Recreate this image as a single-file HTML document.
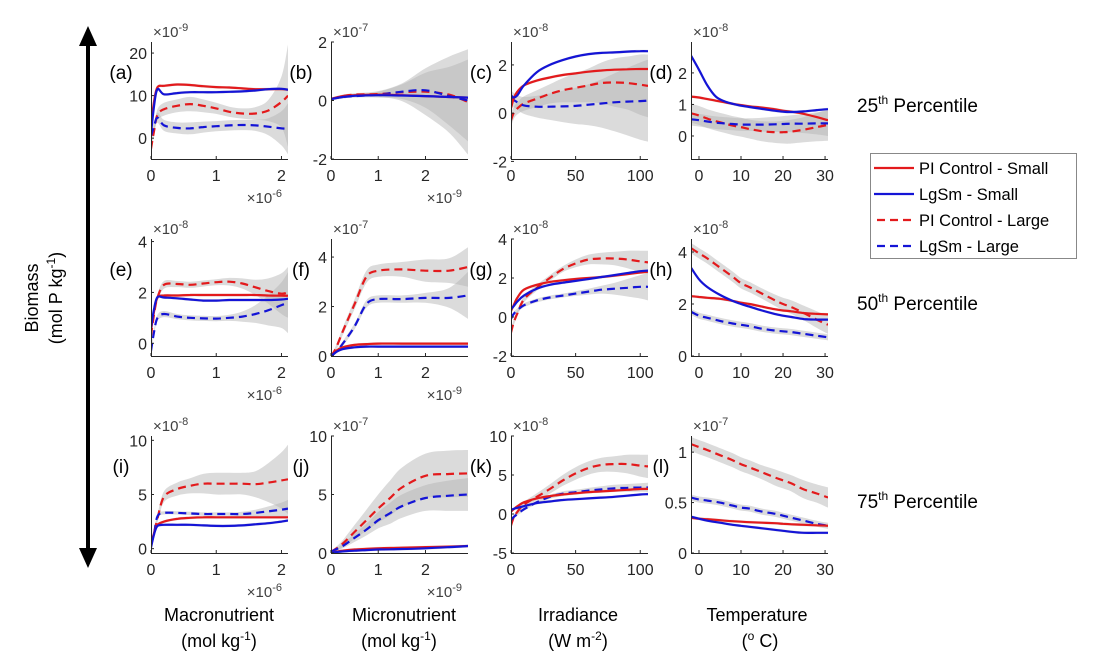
<!DOCTYPE html>
<html><head><meta charset="utf-8"><style>
body{margin:0;background:#fff;}
svg{display:block;font-family:"Liberation Sans",Arial,sans-serif;}
</style></head><body>
<svg id="fig" width="1098" height="670" viewBox="0 0 1098 670" xmlns="http://www.w3.org/2000/svg">
<defs id="defs"></defs>
<g id="arrow">
  <line x1="88" y1="40" x2="88" y2="555" stroke="#000" stroke-width="4"/>
  <polygon points="88,26 79,46 97,46" fill="#000"/>
  <polygon points="88,568 79,548 97,548" fill="#000"/>
</g>
<g font-size="18" fill="#000" text-anchor="middle">
  <text transform="translate(38,298) rotate(-90)">Biomass</text>
  <text transform="translate(62,298) rotate(-90)">(mol P kg<tspan dy="-7" font-size="12">-1</tspan><tspan dy="7">)</tspan></text>
</g>
<g font-size="18" fill="#000" text-anchor="middle">
  <text x="219" y="621">Macronutrient</text>
  <text x="219" y="647">(mol kg<tspan dy="-7" font-size="12">-1</tspan><tspan dy="7">)</tspan></text>
  <text x="404" y="621">Micronutrient</text>
  <text x="399" y="647">(mol kg<tspan dy="-7" font-size="12">-1</tspan><tspan dy="7">)</tspan></text>
  <text x="578" y="621">Irradiance</text>
  <text x="578" y="647">(W m<tspan dy="-7" font-size="12">-2</tspan><tspan dy="7">)</tspan></text>
  <text x="757" y="621">Temperature</text>
  <text x="760" y="647">(<tspan dy="-7" font-size="12">o</tspan><tspan dy="7"> C)</tspan></text>
</g>
<g font-size="19" fill="#000">
  <text x="857" y="112">25<tspan dy="-8" font-size="12">th</tspan><tspan dy="8"> Percentile</tspan></text>
  <text x="857" y="310">50<tspan dy="-8" font-size="12">th</tspan><tspan dy="8"> Percentile</tspan></text>
  <text x="857" y="508">75<tspan dy="-8" font-size="12">th</tspan><tspan dy="8"> Percentile</tspan></text>
</g>
<g>
  <rect x="870.5" y="153.5" width="206" height="105" fill="#fff" stroke="#888" stroke-width="1"/>
  <g><line x1="874" x2="914" y1="168" y2="168" stroke="#e31a1c" stroke-width="2.2"/><text x="919" y="174" font-size="16.5">PI Control - Small</text></g>
  <g><line x1="874" x2="914" y1="194" y2="194" stroke="#1414d6" stroke-width="2.2"/><text x="919" y="200" font-size="16.5">LgSm - Small</text></g>
  <g><line x1="874" x2="914" y1="220" y2="220" stroke="#e31a1c" stroke-width="2.2" stroke-dasharray="8,5" stroke-dashoffset="-3"/><text x="919" y="226" font-size="16.5">PI Control - Large</text></g>
  <g><line x1="874" x2="914" y1="246" y2="246" stroke="#1414d6" stroke-width="2.2" stroke-dasharray="8,5" stroke-dashoffset="-3"/><text x="919" y="252" font-size="16.5">LgSm - Large</text></g>
</g>
<g id="panels"></g>
</svg>
<script>
const xMacro=[0,0.05,0.1,0.2,0.4,0.6,0.8,1.0,1.2,1.4,1.6,1.8,2.0,2.1];
const xMicro=[0,0.1,0.25,0.5,0.75,1,1.5,2,2.5,2.9];
const xMicroJ=[0,0.1,0.25,0.5,0.75,1,1.25,1.5,2,2.5,2.9];
const xMicroB=[0,0.25,0.5,1,1.5,2,2.5,2.9];
const xIrr=[0,2,5,10,20,30,40,50,60,70,80,90,100,106];
const xTempD=[-1.9,0,2,4,6,8,10,12,15,18,20,22,25,28,30.7];
const xTemp=[-1.9,0,2,5,8,10,12,15,18,20,22,25,28,30.7];

const a_rs=[3,9,12,12.3,12.6,12.5,12.2,12,11.9,11.7,11.5,11.5,11.5,11.4];
const a_bs=[1,8,11.5,10.3,10.6,10.8,10.8,10.8,10.9,11,11.2,11.5,11.6,11.4];
const a_rd=[-2.5,2,5.5,6.8,7.6,8,7.6,7,6.2,5.8,5.8,6.5,8.5,10];
const a_bd=[0.5,3,4.8,3,2.4,2.3,2.6,2.8,3,3.1,3,2.7,2.3,2.2];
const a_hrd=[1,1,1.3,1.5,1.5,1.7,1.5,1.3,1.2,1.2,1.5,2.5,6,12];
const a_hbd=[1,1,1.2,1.3,1.3,1.4,1.3,1.2,1.2,1.2,1.3,2,4,6];

const b_rs=[0.05,0.15,0.18,0.2,0.18,0.15,0.12,0.1];
const b_bs=[0.05,0.12,0.16,0.18,0.17,0.15,0.12,0.1];
const b_rd=[0.05,0.15,0.2,0.22,0.28,0.3,0.2,-0.05];
const b_bd=[0.05,0.12,0.15,0.2,0.3,0.35,0.15,0.0];
const b_hrd=[0.05,0.05,0.05,0.1,0.3,0.8,1.3,1.8];
const b_hbd=[0.05,0.05,0.05,0.1,0.25,0.6,1.0,1.4];

const c_rs=[0.2,0.6,0.9,1.15,1.35,1.48,1.58,1.65,1.72,1.77,1.8,1.82,1.83,1.83];
const c_bs=[0.75,0.65,0.75,1.15,1.7,2.0,2.2,2.35,2.45,2.5,2.52,2.55,2.57,2.57];
const c_rd=[-0.3,0,0.2,0.4,0.6,0.8,0.95,1.05,1.15,1.25,1.27,1.25,1.18,1.13];
const c_bd=[0.65,0.55,0.45,0.32,0.27,0.27,0.28,0.3,0.35,0.4,0.45,0.48,0.5,0.52];
const c_hrd=[0.3,0.25,0.25,0.3,0.35,0.4,0.5,0.6,0.7,0.85,1.0,1.1,1.25,1.3];
const c_hbd=[0.3,0.3,0.3,0.35,0.45,0.55,0.65,0.75,0.85,1.0,1.2,1.4,1.6,1.7];

const d_rs=[1.25,1.22,1.17,1.12,1.07,1.02,0.98,0.94,0.9,0.85,0.8,0.77,0.7,0.6,0.5];
const d_bs=[2.55,2.1,1.6,1.25,1.1,1.02,0.96,0.92,0.86,0.8,0.77,0.76,0.78,0.82,0.85];
const d_rd=[0.72,0.65,0.55,0.47,0.4,0.33,0.28,0.22,0.15,0.12,0.12,0.14,0.2,0.28,0.35];
const d_bd=[0.53,0.5,0.46,0.42,0.4,0.38,0.36,0.36,0.36,0.37,0.38,0.39,0.39,0.4,0.4];
const d_hrd=[0.3,0.3,0.3,0.3,0.3,0.3,0.3,0.3,0.32,0.34,0.36,0.38,0.4,0.45,0.5];
const d_hbd=[0.2,0.2,0.2,0.2,0.2,0.2,0.2,0.2,0.22,0.24,0.25,0.27,0.3,0.35,0.4];

const e_rs=[0.5,1.3,1.8,1.88,1.88,1.9,1.9,1.9,1.9,1.9,1.9,1.88,1.87,1.87];
const e_bs=[0.6,1.4,1.82,1.8,1.77,1.72,1.68,1.68,1.7,1.7,1.7,1.7,1.72,1.75];
const e_rd=[0.3,1.2,1.8,2.3,2.33,2.3,2.35,2.4,2.42,2.35,2.2,2.05,1.95,2.0];
const e_bd=[-0.3,0.5,1.0,1.15,1.05,1.0,0.98,0.97,1.0,1.05,1.15,1.3,1.5,1.6];
const e_hrd=[0.1,0.1,0.15,0.15,0.12,0.12,0.12,0.12,0.15,0.2,0.3,0.5,0.8,1.0];
const e_hbd=[0.1,0.1,0.12,0.12,0.1,0.1,0.1,0.1,0.12,0.2,0.35,0.6,0.9,1.2];

const f_rs=[0,0.2,0.35,0.45,0.48,0.5,0.5,0.5,0.5,0.5];
const f_bs=[0,0.15,0.28,0.35,0.38,0.38,0.38,0.38,0.38,0.38];
const f_rd=[0.0,0.3,1.0,2.1,3.2,3.45,3.5,3.45,3.45,3.6];
const f_bd=[0,0.15,0.5,1.2,2.1,2.3,2.3,2.35,2.35,2.45];
const f_hrd=[0.05,0.1,0.15,0.2,0.25,0.25,0.3,0.45,0.5,0.8];
const f_hbd=[0.05,0.05,0.1,0.12,0.15,0.15,0.15,0.2,0.4,0.95];

const g_rs=[0.3,0.6,1.0,1.4,1.65,1.8,1.88,1.95,2.0,2.05,2.12,2.2,2.28,2.32];
const g_bs=[0.4,0.55,0.8,1.1,1.45,1.65,1.76,1.85,1.95,2.05,2.15,2.25,2.35,2.38];
const g_rd=[-0.8,-0.3,0.2,0.9,1.5,2.0,2.45,2.75,2.95,3.0,3.0,2.95,2.85,2.8];
const g_bd=[-0.1,0.15,0.35,0.6,0.85,1.0,1.1,1.2,1.3,1.4,1.45,1.5,1.55,1.55];
const g_hrd=[0.15,0.15,0.15,0.15,0.15,0.15,0.15,0.2,0.25,0.3,0.35,0.45,0.55,0.6];
const g_hbd=[0.1,0.1,0.1,0.1,0.1,0.1,0.1,0.12,0.15,0.2,0.3,0.45,0.6,0.7];

const h_rs=[2.3,2.27,2.24,2.2,2.12,2.05,2.0,1.9,1.8,1.75,1.72,1.65,1.62,1.6];
const h_bs=[3.4,2.95,2.65,2.35,2.12,2.0,1.9,1.75,1.62,1.55,1.5,1.42,1.4,1.4];
const h_rd=[4.15,3.95,3.75,3.4,3.05,2.8,2.65,2.4,2.15,2.0,1.88,1.65,1.4,1.2];
const h_bd=[1.7,1.55,1.47,1.35,1.25,1.2,1.15,1.05,0.98,0.95,0.92,0.85,0.78,0.72];
const h_hrd=[0.2,0.2,0.2,0.2,0.2,0.2,0.2,0.2,0.22,0.24,0.26,0.28,0.32,0.35];
const h_hbd=[0.12,0.12,0.12,0.12,0.12,0.12,0.12,0.12,0.12,0.12,0.12,0.12,0.12,0.12];

const i_rs=[0.3,1.5,2.2,2.5,2.75,2.85,2.9,2.9,2.9,2.9,2.9,2.9,2.9,2.9];
const i_bs=[0.1,1.4,2.1,2.2,2.2,2.2,2.15,2.1,2.1,2.15,2.25,2.35,2.5,2.6];
const i_rd=[0.5,1.5,2.8,4.8,5.5,5.8,6.0,6.0,6.0,6.0,5.95,6.1,6.3,6.4];
const i_bd=[0.3,1.5,3.0,3.3,3.3,3.25,3.2,3.2,3.2,3.2,3.3,3.45,3.6,3.7];
const i_hrd=[0.3,0.3,0.4,0.5,0.6,0.7,0.9,1.0,1.0,1.0,1.2,1.8,2.6,3.2];
const i_hbd=[0.15,0.15,0.15,0.15,0.15,0.15,0.15,0.15,0.15,0.2,0.3,0.45,0.65,0.8];

const j_rs=[0.05,0.1,0.2,0.3,0.35,0.4,0.43,0.45,0.5,0.55,0.6];
const j_bs=[0.05,0.08,0.14,0.2,0.25,0.3,0.32,0.34,0.4,0.5,0.6];
const j_rd=[0.1,0.35,0.8,1.8,2.8,3.8,4.7,5.6,6.6,6.75,6.8];
const j_bd=[0.1,0.3,0.6,1.3,2.0,2.8,3.4,4.0,4.7,4.9,5.0];
const j_hrd=[0.1,0.15,0.3,0.6,0.9,1.2,1.5,1.7,1.9,2.0,2.0];
const j_hbd=[0.05,0.1,0.2,0.35,0.5,0.7,0.9,1.0,1.1,1.3,1.4];

const k_rs=[0.3,0.6,1.0,1.5,2.0,2.3,2.5,2.65,2.8,2.9,3.0,3.1,3.2,3.22];
const k_bs=[0.5,0.65,0.8,1.0,1.4,1.6,1.8,1.9,2.0,2.1,2.2,2.35,2.5,2.55];
const k_rd=[-1.5,-0.5,0.3,1.2,2.2,3.2,4.3,5.2,5.9,6.3,6.4,6.4,6.2,6.1];
const k_bd=[-0.8,-0.4,0.0,0.6,1.5,2.2,2.6,2.8,3.0,3.15,3.3,3.35,3.4,3.4];
const k_hrd=[0.3,0.3,0.3,0.35,0.45,0.6,0.7,0.8,0.85,0.9,1.0,1.2,1.4,1.5];
const k_hbd=[0.2,0.2,0.2,0.2,0.2,0.25,0.3,0.3,0.35,0.4,0.45,0.5,0.55,0.6];

const l_rs=[0.35,0.34,0.335,0.325,0.315,0.31,0.305,0.3,0.295,0.29,0.285,0.28,0.275,0.27];
const l_bs=[0.36,0.34,0.32,0.3,0.28,0.27,0.26,0.245,0.23,0.22,0.21,0.2,0.2,0.2];
const l_rd=[1.08,1.05,1.02,0.97,0.92,0.88,0.85,0.8,0.75,0.72,0.69,0.63,0.59,0.55];
const l_bd=[0.55,0.53,0.52,0.5,0.47,0.45,0.44,0.41,0.39,0.37,0.35,0.32,0.29,0.27];
const l_hrd=[0.07,0.07,0.07,0.07,0.07,0.07,0.07,0.07,0.08,0.08,0.08,0.09,0.09,0.1];
const l_hbd=[0.03,0.03,0.03,0.03,0.03,0.03,0.03,0.03,0.03,0.03,0.03,0.03,0.03,0.03];

const ticksMacro=[0,1,2], ticksMicro=[0,1,2], ticksIrr=[0,50,100], ticksTemp=[0,10,20,30];

const panels=[
 {id:'a',col:0,row:0,x:xMacro,xr:[0,2.1],yr:[-4.9,22.6],xt:ticksMacro,yt:[0,10,20],ye:'-9',xe:'-6',s:[a_rs,a_bs,a_rd,a_bd],h:[a_hrd,a_hbd]},
 {id:'b',col:1,row:0,x:xMicroB,xr:[0,2.9],yr:[-2,2],xt:ticksMicro,yt:[-2,0,2],ye:'-7',xe:'-9',s:[b_rs,b_bs,b_rd,b_bd],h:[b_hrd,b_hbd]},
 {id:'c',col:2,row:0,x:xIrr,xr:[0,106],yr:[-1.9,2.95],xt:ticksIrr,yt:[-2,0,2],ye:'-8',xe:null,s:[c_rs,c_bs,c_rd,c_bd],h:[c_hrd,c_hbd]},
 {id:'d',col:3,row:0,x:xTempD,xr:[-1.9,30.7],yr:[-0.73,2.98],xt:ticksTemp,yt:[0,1,2],ye:'-8',xe:null,s:[d_rs,d_bs,d_rd,d_bd],h:[d_hrd,d_hbd]},
 {id:'e',col:0,row:1,x:xMacro,xr:[0,2.1],yr:[-0.5,4.1],xt:ticksMacro,yt:[0,2,4],ye:'-8',xe:'-6',s:[e_rs,e_bs,e_rd,e_bd],h:[e_hrd,e_hbd]},
 {id:'f',col:1,row:1,x:xMicro,xr:[0,2.9],yr:[0,4.73],xt:ticksMicro,yt:[0,2,4],ye:'-7',xe:'-9',s:[f_rs,f_bs,f_rd,f_bd],h:[f_hrd,f_hbd]},
 {id:'g',col:2,row:1,x:xIrr,xr:[0,106],yr:[-2,4],xt:ticksIrr,yt:[-2,0,2,4],ye:'-8',xe:null,s:[g_rs,g_bs,g_rd,g_bd],h:[g_hrd,g_hbd]},
 {id:'h',col:3,row:1,x:xTemp,xr:[-1.9,30.7],yr:[0,4.5],xt:ticksTemp,yt:[0,2,4],ye:'-8',xe:null,s:[h_rs,h_bs,h_rd,h_bd],h:[h_hrd,h_hbd]},
 {id:'i',col:0,row:2,x:xMacro,xr:[0,2.1],yr:[-0.4,10.4],xt:ticksMacro,yt:[0,5,10],ye:'-8',xe:'-6',s:[i_rs,i_bs,i_rd,i_bd],h:[i_hrd,i_hbd]},
 {id:'j',col:1,row:2,x:xMicroJ,xr:[0,2.9],yr:[0,10],xt:ticksMicro,yt:[0,5,10],ye:'-7',xe:'-9',s:[j_rs,j_bs,j_rd,j_bd],h:[j_hrd,j_hbd]},
 {id:'k',col:2,row:2,x:xIrr,xr:[0,106],yr:[-5,10],xt:ticksIrr,yt:[-5,0,5,10],ye:'-8',xe:null,s:[k_rs,k_bs,k_rd,k_bd],h:[k_hrd,k_hbd]},
 {id:'l',col:3,row:2,x:xTemp,xr:[-1.9,30.7],yr:[0,1.16],xt:ticksTemp,yt:[0,0.5,1],ye:'-7',xe:null,s:[l_rs,l_bs,l_rd,l_bd],h:[l_hrd,l_hbd]}
];
const colLeft=[151,331,511,691], rowTop=[42,239,436], W=137, H=117;
const RED='#e31a1c', BLUE='#1414d6';
const NS='http://www.w3.org/2000/svg';
function mk(tag,attrs,parent){const e=document.createElementNS(NS,tag);for(const k in attrs)e.setAttribute(k,attrs[k]);if(parent)parent.appendChild(e);return e;}
function smooth(pts){
  let d='M'+pts[0][0].toFixed(1)+','+pts[0][1].toFixed(1);
  for(let i=0;i<pts.length-1;i++){
    const p0=pts[i-1]||pts[i],p1=pts[i],p2=pts[i+1],p3=pts[i+2]||p2;
    const c1=[p1[0]+(p2[0]-p0[0])/6,p1[1]+(p2[1]-p0[1])/6];
    const c2=[p2[0]-(p3[0]-p1[0])/6,p2[1]-(p3[1]-p1[1])/6];
    d+='C'+c1[0].toFixed(1)+','+c1[1].toFixed(1)+' '+c2[0].toFixed(1)+','+c2[1].toFixed(1)+' '+p2[0].toFixed(1)+','+p2[1].toFixed(1);
  }
  return d;
}
const root=document.getElementById('panels'), defs=document.getElementById('defs');
panels.forEach(p=>{
  const L=colLeft[p.col],T=rowTop[p.row],B=T+H,R=L+W;
  const sx=v=>L+(v-p.xr[0])/(p.xr[1]-p.xr[0])*W;
  const sy=v=>B-(v-p.yr[0])/(p.yr[1]-p.yr[0])*H;
  const g=mk('g',{},root);
  
  
  const cp=mk('clipPath',{id:'clip-'+p.id},defs);mk('rect',{x:L,y:T,width:W,height:H},cp);
  const plot=mk('g',{'clip-path':'url(#clip-'+p.id+')'},g);
  [[2,0],[3,1]].forEach(([si,hi])=>{
    const ys=p.s[si],hw=p.h[hi];
    const up=p.x.map((x,i)=>[sx(x),sy(ys[i]+hw[i])]);
    const lo=p.x.map((x,i)=>[sx(x),sy(ys[i]-hw[i])]).reverse();
    const band=mk('path',{d:smooth(up)+'L'+smooth(lo).slice(1)+'Z',fill:'#b4b4b4','fill-opacity':'0.48'},plot);
    
    
  });
  [0,1].forEach(si=>{
    const ys=p.s[si],hw=(p.yr[1]-p.yr[0])*0.012;
    const up=p.x.map((x,i)=>[sx(x),sy(ys[i]+hw)]);
    const lo=p.x.map((x,i)=>[sx(x),sy(ys[i]-hw)]).reverse();
    const band=mk('path',{d:smooth(up)+'L'+smooth(lo).slice(1)+'Z',fill:'#c8c8c8','fill-opacity':'0.5'},plot);
    
    
  });
  const names=['pi-small','lgsm-small','pi-large','lgsm-large'];
  [2,3,0,1].forEach(si=>{
    const pts=p.x.map((x,i)=>[sx(x),sy(p.s[si][i])]);
    const a={d:smooth(pts),fill:'none',stroke:(si%2===0)?RED:BLUE,'stroke-width':2.2,'stroke-linejoin':'round'};
    if(si>=2)a['stroke-dasharray']='8,5';
    const line=mk('path',a,plot);
    
    
  });
  const ax=mk('g',{stroke:'#262626','stroke-width':1},g);
  
  
  mk('line',{x1:L+0.5,y1:T,x2:L+0.5,y2:B+0.5},ax);
  mk('line',{x1:L,y1:B+0.5,x2:R,y2:B+0.5},ax);
  const lbl=mk('g',{'font-size':16,fill:'#262626'},g);
  
  
  p.xt.forEach(v=>{const x=sx(v);mk('line',{x1:x,y1:B,x2:x,y2:B-3},ax);
    const t=mk('text',{x:x,y:B+22,'text-anchor':'middle'},lbl);t.textContent=v;});
  p.yt.forEach(v=>{const y=sy(v);mk('line',{x1:L,y1:y,x2:L+3,y2:y},ax);
    const t=mk('text',{x:L-4,y:y+6,'text-anchor':'end'},lbl);t.textContent=v;});
  const et=mk('text',{x:L+2,y:T-5,'font-size':15,fill:'#404040'},g);
  
  
  et.innerHTML='×10<tspan dy="-6" font-size="11">'+p.ye+'</tspan>';
  if(p.xe){const xt=mk('text',{x:R-6,y:B+44,'font-size':15,fill:'#404040','text-anchor':'end'},g);
    
    
    xt.innerHTML='×10<tspan dy="-6" font-size="11">'+p.xe+'</tspan>';}
  const pl=mk('text',{x:L-30,y:T+37,'font-size':19,fill:'#000','text-anchor':'middle'},g);
  
  
  pl.textContent='('+p.id+')';
});
</script>
</body></html>
